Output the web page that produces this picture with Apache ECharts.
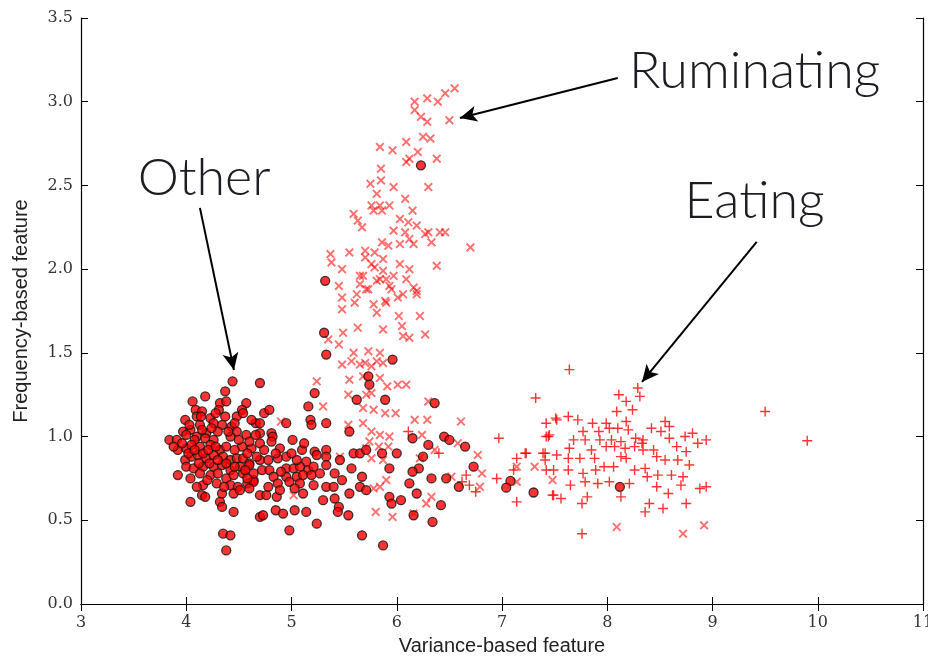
<!DOCTYPE html>
<html>
<head>
<meta charset="utf-8">
<script src="https://cdn.jsdelivr.net/npm/echarts@6/dist/echarts.min.js"></script>
<style>
  html, body { margin: 0; padding: 0; background: #fff; }
  #chart { width: 928px; height: 656px; }
</style>
</head>
<body>
<div id="chart"></div>
<script>
// [variance, frequency] pairs
var otherPts = [
  [4.44,1.33],[4.70,1.32],[4.37,1.27],[5.22,1.26],[4.18,1.24],[4.06,1.21],[4.32,1.20],[4.38,1.21],[4.57,1.20],[5.16,1.18],
  [4.31,1.16],[4.09,1.16],[4.15,1.15],[4.53,1.16],[4.74,1.14],[4.79,1.16],[3.99,1.10],[4.10,1.12],[4.23,1.11],[4.37,1.12],
  [4.48,1.12],[4.54,1.14],[4.66,1.08],[4.70,1.08],[4.95,1.08],[5.18,1.10],[5.19,1.07],[5.33,1.08],[3.97,1.03],[4.04,1.04],
  [4.13,1.07],[4.26,1.08],[4.34,1.07],[4.43,1.06],[4.19,1.02],[4.30,1.03],[4.48,1.03],[4.57,1.01],[4.70,1.02],[4.81,1.02],
  [4.82,1.00],[4.10,1.00],[4.00,1.01],[3.84,0.98],[3.91,0.98],[4.08,0.98],[4.18,0.99],[4.26,0.98],[4.42,1.00],[4.53,0.94],
  [4.62,0.93],[4.70,0.96],[4.81,0.97],[4.89,0.93],[5.01,0.98],[5.10,0.92],[5.22,0.91],[5.33,0.92],[3.92,0.92],[4.00,0.93],
  [4.05,0.95],[4.13,0.94],[4.23,0.95],[4.32,0.92],[4.38,0.94],[4.46,0.92],[3.99,0.86],[4.05,0.88],[4.11,0.89],[4.19,0.87],
  [4.26,0.89],[4.35,0.88],[4.42,0.86],[4.48,0.87],[4.54,0.87],[4.60,0.84],[4.70,0.86],[4.78,0.86],[4.87,0.87],[5.14,0.85],
  [5.24,0.89],[5.33,0.88],[4.00,0.82],[4.07,0.81],[4.16,0.82],[4.26,0.82],[4.34,0.83],[4.42,0.80],[4.51,0.82],[4.60,0.83],
  [4.72,0.80],[4.79,0.80],[4.95,0.81],[5.02,0.81],[5.08,0.82],[5.16,0.80],[5.21,0.82],[5.33,0.83],[3.92,0.77],[4.04,0.75],
  [4.13,0.78],[4.23,0.77],[4.30,0.78],[4.38,0.75],[4.45,0.77],[4.54,0.78],[4.64,0.74],[4.83,0.76],[4.95,0.76],[5.05,0.76],
  [5.11,0.77],[5.19,0.77],[4.29,0.72],[4.42,0.71],[4.49,0.70],[4.58,0.72],[4.64,0.73],[4.87,0.72],[4.98,0.73],[5.08,0.72],
  [5.21,0.71],[5.33,0.70],[4.16,0.71],[4.15,0.65],[4.18,0.64],[4.34,0.66],[4.45,0.66],[4.51,0.68],[4.60,0.69],[4.70,0.65],
  [4.76,0.65],[4.86,0.64],[4.89,0.68],[5.03,0.69],[5.11,0.66],[5.30,0.62],[4.04,0.61],[4.32,0.61],[4.34,0.58],[4.45,0.55],
  [4.70,0.52],[4.73,0.53],[4.85,0.56],[4.92,0.54],[5.03,0.56],[5.14,0.55],[5.24,0.48],[4.98,0.44],[4.35,0.42],[4.42,0.41],
  [4.38,0.32],
  [4.02,0.90],[4.08,0.92],[4.16,0.90],[4.21,0.92],[4.28,0.94],[4.12,0.84],[4.22,0.84],[4.30,0.86],[4.38,0.84],[4.46,0.82],
  [4.56,0.80],[4.64,0.78],[4.03,1.07],[4.15,1.04],[4.24,1.05],[4.40,1.03],[4.50,0.98],[4.60,0.97],[4.66,1.01],[4.74,0.92],
  [4.85,0.90],[4.95,0.88],[5.05,0.86],[4.90,0.79],[4.58,0.90],[4.67,0.88],[4.20,0.74],[4.36,0.70],[4.10,0.70],[3.96,0.96],
  [3.88,0.94],[4.14,1.12],[4.28,1.14],[4.46,1.08],[4.62,1.10],[4.58,0.75],[4.78,0.70],[5.00,0.90],[5.27,0.78],[5.12,0.96],
  [5.73,1.36],[5.74,1.31],[5.62,1.22],[5.89,1.22],[6.36,1.20],[5.55,1.03],[5.59,0.90],[5.65,0.90],[5.71,0.92],[5.86,0.90],
  [6.00,0.90],[5.46,0.86],[5.57,0.81],[5.93,0.81],[6.15,0.99],[6.30,0.95],[6.45,1.00],[6.50,0.98],[6.65,0.94],[6.25,0.88],
  [6.21,0.81],[6.15,0.79],[6.33,0.75],[6.47,0.75],[6.59,0.70],[6.73,0.82],[5.41,0.78],[5.48,0.74],[5.40,0.70],[5.41,0.63],
  [5.55,0.66],[5.67,0.76],[5.65,0.70],[5.71,0.68],[6.12,0.72],[6.19,0.66],[5.93,0.64],[5.95,0.60],[6.04,0.62],[5.45,0.58],
  [5.44,0.55],[5.54,0.53],[6.16,0.53],[6.34,0.49],[6.42,0.59],[5.67,0.41],[5.87,0.35],
  [5.96,1.46],[7.08,0.735],[7.04,0.695],[7.30,0.666],[5.32,1.93],[5.31,1.62],[5.33,1.49],[6.23,2.62],[8.12,0.70]
];

var ruminatingPts = [
  [6.55,3.08],[6.46,3.05],[6.29,3.02],[6.39,3.00],[6.17,3.00],[6.17,2.95],[6.23,2.91],[6.29,2.88],[6.50,2.89],[6.25,2.79],
  [6.32,2.78],[6.09,2.76],[5.84,2.73],[5.96,2.71],[6.20,2.70],[6.12,2.66],[6.09,2.64],[6.38,2.66],[5.85,2.60],[5.75,2.51],
  [5.85,2.53],[5.97,2.49],[6.30,2.49],[5.81,2.45],[6.08,2.42],[5.76,2.38],[5.84,2.38],[5.93,2.38],[5.59,2.33],[5.63,2.29],
  [5.67,2.25],[6.03,2.30],[6.15,2.35],[6.11,2.28],[6.19,2.26],[5.97,2.23],[6.30,2.22],[6.41,2.22],[6.33,2.16],[6.70,2.13],
  [5.86,2.16],[5.92,2.14],[5.79,2.10],[5.37,2.09],[5.55,2.10],[5.38,2.04],[5.48,2.00],[5.70,2.07],[5.76,2.03],[5.87,2.06],
  [6.03,2.03],[6.12,2.00],[6.38,2.02],[5.45,1.90],[5.48,1.83],[5.65,1.96],[5.71,1.88],[5.84,1.94],[5.93,1.90],[6.19,1.87],
  [6.06,1.85],[5.60,1.80],[5.90,1.80],
  [5.78,2.35],[5.86,2.35],[6.08,2.22],[6.27,2.21],[6.46,2.22],[6.12,2.18],[6.03,2.15],[6.16,2.15],
  [5.70,2.11],[5.79,2.01],[5.68,1.96],[5.65,1.91],[5.73,1.88],[5.81,1.93],[5.87,1.99],[5.90,1.94],[5.97,1.96],[5.95,1.88],
  [6.01,1.83],[6.09,1.94],[6.16,1.89],[6.19,1.85],[5.89,1.81],[5.78,1.79],[5.62,1.85],[5.48,1.76],
  [6.02,1.72],[6.22,1.72],[5.81,1.74],[5.49,1.62],[5.63,1.65],[5.87,1.64],[6.05,1.66],[6.06,1.60],[6.12,1.59],[6.27,1.61],
  [5.45,1.55],[5.59,1.50],[5.73,1.51],[5.84,1.50],[5.48,1.43],[5.65,1.43],[5.81,1.45],[5.35,1.58],
  [5.57,1.45],[5.70,1.44],[5.76,1.42],[5.87,1.44],[5.24,1.33],[5.55,1.34],[5.68,1.36],[5.84,1.35],[5.91,1.30],[6.01,1.31],
  [6.09,1.31],[5.54,1.25],[5.71,1.25],[5.76,1.26],[5.30,1.18],[5.68,1.17],[5.78,1.16],[5.89,1.14],[5.99,1.14],[6.30,1.21],
  [5.54,1.07],[5.68,1.08],[6.17,1.10],[6.29,1.10],[6.61,1.09],[5.76,1.03],[5.84,1.01],[5.93,1.00],[5.74,0.97],[6.24,1.01],
  [5.71,0.93],[5.83,0.94],[5.92,0.94],[5.46,0.88],[5.76,0.87],[5.87,0.86],[6.22,0.87],[6.36,0.92],[6.58,0.96],[6.77,0.89],
  [6.81,0.78],[6.52,0.76],[6.79,0.70],[5.90,0.74],[5.84,0.70],[5.78,0.69],[6.33,0.64],[6.28,0.60],[5.80,0.55],[5.96,0.52],
  [6.16,0.54],[7.14,0.82],[7.31,0.82],[7.14,0.73],[7.48,0.74],[8.09,0.46],[8.72,0.42],[8.92,0.47],[4.90,1.09],[5.02,0.65]
];

var eatingPts = [
  [7.64,1.40],[7.32,1.23],[8.29,1.29],[8.31,1.24],[8.11,1.25],[8.18,1.21],[8.24,1.16],[8.09,1.15],[8.18,1.09],[7.52,1.10],
  [7.63,1.12],[7.42,1.08],[7.72,1.10],[7.86,1.08],[7.99,1.08],[8.02,1.05],[8.10,1.05],[7.42,1.00],[7.45,1.01],[7.77,1.03],
  [7.92,1.03],[8.20,1.04],[8.27,0.99],[8.42,1.05],[8.51,1.03],[8.55,1.09],[8.59,1.06],[8.59,0.99],[8.74,1.00],[8.81,1.02],
  [8.86,0.96],[8.94,0.98],[8.33,0.96],[7.68,0.98],[7.79,0.98],[7.85,0.92],[7.93,0.98],[8.04,0.98],[8.07,0.94],[8.17,0.93],
  [8.13,0.88],[8.18,0.87],[8.26,0.94],[8.34,0.92],[8.44,0.92],[8.47,0.88],[8.55,0.86],[8.66,0.94],[8.67,0.86],[8.75,0.91],
  [8.78,0.83],[7.64,0.93],[7.63,0.87],[7.74,0.87],[7.52,0.89],[7.39,0.90],[7.41,0.86],[7.23,0.90],[7.14,0.87],[7.42,0.80],
  [7.49,0.80],[7.63,0.80],[7.77,0.78],[7.89,0.80],[7.97,0.82],[8.06,0.82],[8.26,0.80],[8.36,0.81],[8.38,0.76],[8.48,0.77],
  [8.61,0.77],[8.72,0.76],[7.65,0.71],[7.79,0.73],[7.91,0.72],[8.02,0.73],[8.21,0.72],[8.47,0.70],[8.58,0.66],[8.70,0.71],
  [8.88,0.69],[8.94,0.70],[7.49,0.65],[7.56,0.63],[7.81,0.64],[7.76,0.60],[8.13,0.64],[8.40,0.60],[8.36,0.55],[8.53,0.57],
  [8.75,0.60],[7.14,0.61],[7.76,0.42],[7.88,0.87],[7.99,0.94],[8.13,0.97],[8.34,0.98],
  [6.95,0.75],[6.97,0.99],[6.11,1.03],[6.40,0.90],[6.66,0.77],[6.62,0.73],[6.69,0.71],[6.75,0.67],[7.51,1.11],[7.44,1.00],
  [7.22,0.90],[7.11,0.80],[7.48,0.65],[7.41,0.90],[9.50,1.15],[9.90,0.975]
];

// annotation labels: text, anchor [x, y] in data units
var noteNames = ['Other', 'Ruminating', 'Eating'];
var notePos = [[4.17, 2.545], [9.40, 3.183], [9.40, 2.406]];
// arrows: [start, end] in data units
var arrowLines = [
  [[4.13, 2.366], [4.453, 1.398]],
  [[8.10, 3.142], [6.60, 2.903]],
  [[9.42, 2.163], [8.33, 1.326]]
];

var xMin = 3, xMax = 11, xStep = 1;
var yMin = 0, yMax = 3.5, yStep = 0.5;

var crossPath = 'path://M0,1.5L1.5,0L5,3.5L8.5,0L10,1.5L6.5,5L10,8.5L8.5,10L5,6.5L1.5,10L0,8.5L3.5,5Z';
var plusPath = 'path://M4.3,0H5.7V4.3H10V5.7H5.7V10H4.3V5.7H0V4.3H4.3Z';

var chart = echarts.init(document.getElementById('chart'), null, { renderer: 'canvas' });

var tickFont = { fontFamily: 'DejaVu Serif', fontSize: 16, color: '#333' };
var boxLine = { show: true, lineStyle: { color: '#000', width: 1.2 } };
var inTick = { show: true, inside: true, length: 7, lineStyle: { color: '#000', width: 1 } };

var option = {
  animation: false,
  backgroundColor: '#fff',
  grid: { left: 81, right: 5, top: 18, bottom: 52, outerBoundsMode: 'none' },
  xAxis: [{
    type: 'value', min: xMin, max: xMax, interval: xStep,
    name: 'Variance-based feature', nameLocation: 'middle', nameGap: 32,
    nameTextStyle: { fontFamily: 'Liberation Sans', fontSize: 20, color: '#222' },
    axisLine: boxLine, axisTick: inTick, splitLine: { show: false },
    axisLabel: Object.assign({ margin: 11, showMaxLabel: true }, tickFont)
  }, {
    type: 'value', position: 'top', min: xMin, max: xMax, interval: xStep,
    axisLine: boxLine, axisTick: inTick, axisLabel: { show: false }, splitLine: { show: false }
  }],
  yAxis: [{
    type: 'value', min: yMin, max: yMax, interval: yStep,
    name: 'Frequency-based feature', nameLocation: 'middle', nameGap: 50,
    nameTextStyle: { fontFamily: 'Liberation Sans', fontSize: 20, color: '#222' },
    axisLine: boxLine, axisTick: inTick, splitLine: { show: false },
    axisLabel: Object.assign({ margin: 8, formatter: function (v) { return v.toFixed(1); } }, tickFont)
  }, {
    type: 'value', position: 'right', min: yMin, max: yMax, interval: yStep,
    axisLine: boxLine, axisTick: inTick, axisLabel: { show: false }, splitLine: { show: false }
  }],
  series: [{
    name: 'Ruminating', type: 'scatter', data: ruminatingPts,
    symbol: crossPath, symbolSize: 9,
    itemStyle: { color: 'rgba(255,0,0,0.7)' }
  }, {
    name: 'Eating', type: 'scatter', data: eatingPts,
    symbol: plusPath, symbolSize: 10,
    itemStyle: { color: '#ff0000' }
  }, {
    name: 'Other', type: 'scatter', data: otherPts,
    symbol: 'circle', symbolSize: 9,
    itemStyle: { color: '#f00', borderColor: '#111', borderWidth: 1.3 },
    markLine: {
      silent: true, animation: false,
      symbol: ['none', 'arrow'], symbolSize: [12, 17],
      label: { show: false },
      lineStyle: { color: '#000', width: 2, type: 'solid' },
      data: arrowLines.map(function (a) {
        return [{ coord: a[0] }, { coord: a[1] }];
      })
    }
  }]
};

chart.setOption(option);

// big annotation words, placed at data coordinates
chart.setOption({
  graphic: noteNames.map(function (t, i) {
    var p = chart.convertToPixel({ gridIndex: 0 }, notePos[i]);
    return {
      type: 'text', x: p[0], y: p[1], silent: true,
      style: {
        text: t, fill: '#1c1c24',
        fontFamily: 'Lato', fontWeight: 300, fontSize: 52,
        align: 'center', verticalAlign: 'middle'
      }
    };
  })
});
</script>
</body>
</html>
